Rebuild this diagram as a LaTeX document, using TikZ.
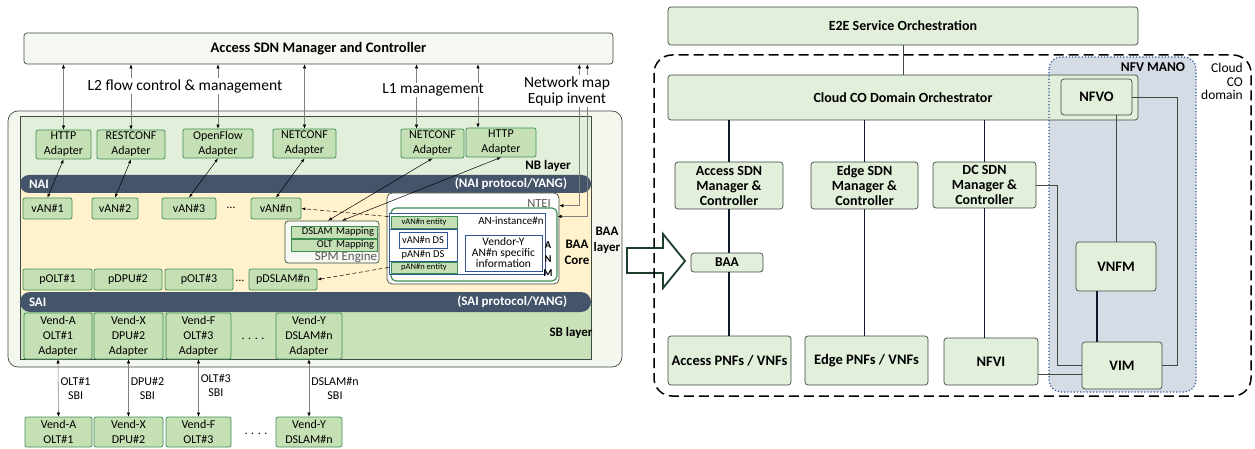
\documentclass[tikz,border=0pt]{standalone}
\usepackage{fontspec}
\setmainfont{Carlito}
\usetikzlibrary{arrows.meta}

\definecolor{adfill}{HTML}{C5E0B4}
\definecolor{adline}{HTML}{3E8E56}
\definecolor{nbfill}{HTML}{E2EFDA}
\definecolor{sbfill}{HTML}{C9E2B9}
\definecolor{topfill}{HTML}{F6F9F2}
\definecolor{framefill}{HTML}{F3F7EE}
\definecolor{corefill}{HTML}{FFF2CC}
\definecolor{barfill}{HTML}{44546A}
\definecolor{manofill}{HTML}{D6DCE5}
\definecolor{manoline}{HTML}{2F5597}
\definecolor{boxline}{HTML}{3F4A40}
\definecolor{linknavy}{HTML}{0E1A2B}
\definecolor{arrgray}{HTML}{808080}
\definecolor{bigarrow}{HTML}{1E3D2A}
\definecolor{txtgray}{HTML}{595959}

\begin{document}
\begin{tikzpicture}[
    x=1pt, y=-1pt,
    adapter/.style={draw=adline, fill=adfill, rounded corners=2pt, line width=0.7pt, align=center, inner sep=0pt, font=\fontsize{12}{15}\selectfont},
    mapbar/.style={draw=adline, fill=adfill, line width=0.6pt, inner sep=0pt},
    bluebox/.style={draw=manoline, fill=white, line width=0.8pt, inner sep=0pt, align=center},
    cobox/.style={draw=boxline, fill=nbfill, rounded corners=3pt, line width=0.7pt, align=center, inner sep=0pt, font=\fontsize{14}{15}\selectfont\bfseries},
    layerbar/.style={fill=barfill, rounded corners=9pt, inner sep=0pt, minimum width=571pt, minimum height=18pt},
    bartext/.style={text=white, font=\fontsize{13}{15}\selectfont\bfseries, inner sep=0pt},
    flowlabel/.style={fill=white, inner sep=1pt, align=center, font=\fontsize{15.5}{16}\selectfont},
    sbilabel/.style={align=center, inner sep=2pt, font=\fontsize{12}{14}\selectfont},
    layerlabel/.style={align=center, inner sep=0pt, font=\fontsize{13}{16}\selectfont\bfseries},
    smalltext/.style={inner sep=0pt, align=center, font=\fontsize{11}{11}\selectfont},
    dots/.style={inner sep=0pt, font=\fontsize{12}{12}\selectfont},
    biarrow/.style={{Latex[length=4pt,width=3.5pt,color=black]}-{Latex[length=4pt,width=3.5pt,color=black]}, draw=arrgray, line width=0.6pt},
    thinarrow/.style={{Latex[length=4pt,width=3pt]}-{Latex[length=4pt,width=3pt]}, line width=0.5pt},
    dasharrow/.style={-{Latex[length=4pt,width=3pt]}, dash pattern=on 4pt off 2.5pt, line width=0.5pt},
    link/.style={draw=linknavy, line width=1.1pt},
    manolink/.style={draw=boxline, line width=0.8pt}
]
\useasboundingbox (0,0) rectangle (1255,449);

    % ================= BAA LAYER FRAME =================
    \draw[draw=boxline, fill=framefill, rounded corners=10pt, line width=0.7pt] (8,111) rectangle (622,367);
    \fill[nbfill] (20,116) rectangle (591,184);
    \fill[corefill] (20,184) rectangle (591,301);
    \fill[sbfill] (20,301) rectangle (591,359);
    \draw[boxline, line width=0.5pt] (20,116) rectangle (591,359);

    \node[layerbar] (naibar) at (305.5,184) {};
    \node[layerbar, minimum height=20pt, rounded corners=10pt] (saibar) at (305.5,302) {};
    \node[bartext, anchor=west] (nailbl) at ([xshift=9pt]naibar.west) {NAI};
    \node[bartext, anchor=east] (naiproto) at ([xshift=-24pt]naibar.east) {(NAI protocol/YANG)};
    \node[bartext, anchor=west] (sailbl) at ([xshift=9pt]saibar.west) {SAI};
    \node[bartext, anchor=east] (saiproto) at ([xshift=-24pt]saibar.east) {(SAI protocol/YANG)};

    \node[layerlabel] (nblbl) at (548,166) {NB layer};
    \node[layerlabel] (sblbl) at (571,333) {SB layer};
    \node[layerlabel] (corelbl) at (577,252) {BAA\\Core};
    \node[layerlabel] (baalbl) at (607,240) {BAA\\layer};

    % ================= SDN MANAGER =================
    \node[draw=boxline, fill=topfill, rounded corners=3pt, line width=0.7pt, minimum width=589pt, minimum height=31pt, font=\fontsize{14.5}{16}\selectfont\bfseries] (asdn) at (318.5,48.5) {Access SDN Manager and Controller};

    % ================= NB ADAPTERS =================
    \node[adapter, minimum width=55pt, minimum height=29pt] (httpA) at (63.5,144.5) {HTTP\\Adapter};
    \node[adapter, minimum width=68pt, minimum height=29pt] (restA) at (131,144.5) {RESTCONF\\Adapter};
    \node[adapter, minimum width=70pt, minimum height=29pt] (ofA) at (218,143.5) {OpenFlow\\Adapter};
    \node[adapter, minimum width=63pt, minimum height=29pt] (ncA) at (304.5,143.5) {NETCONF\\Adapter};
    \node[adapter, minimum width=63pt, minimum height=29pt] (nc2A) at (432.5,143.5) {NETCONF\\Adapter};
    \node[adapter, minimum width=70pt, minimum height=29pt] (http2A) at (501,142.5) {HTTP\\Adapter};

    % ================= vAN / pAN =================
    \node[adapter, minimum width=49pt, minimum height=21pt] (van1) at (47.5,208.5) {vAN\#1};
    \node[adapter, minimum width=46pt, minimum height=21pt] (van2) at (115,208.5) {vAN\#2};
    \node[adapter, minimum width=54pt, minimum height=21pt] (van3) at (189,208.5) {vAN\#3};
    \node[dots] (vandots) at (231,208) {\dots};
    \node[adapter, minimum width=50pt, minimum height=21pt] (vann) at (276,208.5) {vAN\#n};

    \node[adapter, minimum width=69pt, minimum height=21pt] (polt1) at (57.5,279.5) {pOLT\#1};
    \node[adapter, minimum width=68pt, minimum height=21pt] (pdpu2) at (128,279.5) {pDPU\#2};
    \node[adapter, minimum width=68pt, minimum height=21pt] (polt3) at (199,279.5) {pOLT\#3};
    \node[dots] (pandots) at (240,281) {\dots};
    \node[adapter, minimum width=68pt, minimum height=21pt] (pdslam) at (283,279.5) {pDSLAM\#n};

    % ================= SPM ENGINE =================
    \node[draw=boxline, fill=topfill, rounded corners=3pt, line width=0.7pt, minimum width=94pt, minimum height=42pt] (spm) at (332,242) {};
    \node[mapbar, minimum width=86pt, minimum height=12pt, text width=80pt, align=right, font=\fontsize{10.5}{11}\selectfont] (dslammap) at (334,232) {DSLAM Mapping};
    \node[mapbar, minimum width=86pt, minimum height=12pt, text width=80pt, align=right, font=\fontsize{10.5}{11}\selectfont] (oltmap) at (334,245) {OLT Mapping};
    \node[inner sep=0pt, text=txtgray, font=\fontsize{13}{13}\selectfont] (spmlbl) at (346,257) {SPM Engine};

    % ================= NTEI / ANM =================
    \node[draw=boxline, fill=white, rounded corners=5pt, line width=0.7pt, minimum width=172pt, minimum height=91pt] (ntei) at (473,238.5) {};
    \node[inner sep=0pt, text=txtgray, font=\fontsize{12.5}{13}\selectfont] (nteilbl) at (539,203) {NTEI};
    \node[draw=adline, fill=white, rounded corners=5pt, line width=1.2pt, minimum width=166pt, minimum height=73pt] (anm) at (474,244.5) {};
    \node[bluebox, minimum width=156pt, minimum height=61pt] (aninst) at (467,243.5) {};
    \node[smalltext] (aninstlbl) at (511,221) {AN-instance\#n};
    \node[mapbar, minimum width=66pt, minimum height=12pt, font=\fontsize{8.5}{9}\selectfont] (vanent) at (424,222) {vAN\#n entity};
    \node[bluebox, minimum width=68pt, minimum height=32pt] (dsbox) at (423,245) {};
    \node[bluebox, minimum width=48pt, minimum height=16pt, font=\fontsize{10.5}{11}\selectfont] (vands) at (423,240) {vAN\#n DS};
    \node[smalltext, font=\fontsize{10.5}{11}\selectfont] (pandslbl) at (423,255) {pAN\#n DS};
    \node[mapbar, minimum width=66pt, minimum height=11pt, font=\fontsize{8.5}{9}\selectfont] (panent) at (424,267.5) {pAN\#n entity};
    \node[bluebox, minimum width=77pt, minimum height=36pt, font=\fontsize{11.5}{11}\selectfont] (vendinfo) at (503.5,253) {Vendor-Y\\AN\#n specific\\information};
    \node[inner sep=0pt, align=center, font=\fontsize{10.5}{14}\selectfont\bfseries] (anmlbl) at (548,259) {A\\N\\M};

    % ================= SB ADAPTERS =================
    \node[adapter, minimum width=68pt, minimum height=46pt] (vendA) at (58,336) {Vend-A\\OLT\#1\\Adapter};
    \node[adapter, minimum width=69pt, minimum height=46pt] (vendX) at (128.5,336) {Vend-X\\DPU\#2\\Adapter};
    \node[adapter, minimum width=65pt, minimum height=46pt] (vendF) at (198.5,336) {Vend-F\\OLT\#3\\Adapter};
    \node[dots] (venddots) at (253,339) {. . . .};
    \node[adapter, minimum width=66pt, minimum height=46pt] (vendY) at (309,336) {Vend-Y\\DSLAM\#n\\Adapter};

    % ================= ACCESS NODES =================
    \node[adapter, minimum width=67pt, minimum height=30pt] (devA) at (58.5,432) {Vend-A\\OLT\#1};
    \node[adapter, minimum width=69pt, minimum height=30pt] (devX) at (128.5,432) {Vend-X\\DPU\#2};
    \node[adapter, minimum width=65pt, minimum height=30pt] (devF) at (198.5,432) {Vend-F\\OLT\#3};
    \node[dots] (devdots) at (256,434) {. . . .};
    \node[adapter, minimum width=66pt, minimum height=30pt] (devY) at (309,432) {Vend-Y\\DSLAM\#n};

    % ================= LEFT CONNECTORS =================
    \coordinate (nc2up) at ([xshift=-16pt]nc2A.north);
    \coordinate (http2up) at ([xshift=-23pt]http2A.north);
    \draw[biarrow] (asdn.south -| httpA.north) -- (httpA.north);
    \draw[biarrow] (asdn.south -| restA.north) -- (restA.north);
    \draw[biarrow] (asdn.south -| ofA.north) -- (ofA.north);
    \draw[biarrow] (asdn.south -| ncA.north) -- (ncA.north);
    \draw[biarrow] (asdn.south -| nc2up) -- (nc2up);
    \draw[biarrow] (asdn.south -| http2up) -- (http2up);
    \draw[biarrow] ([yshift=-13pt]ntei.north east) -| ([xshift=-34pt]asdn.south east);
    \draw[biarrow] ([yshift=-9pt]anm.north east) -| ([xshift=-26pt]asdn.south east);

    \node[flowlabel] (l2lbl) at (185,86) {L2 flow control \& management};
    \node[flowlabel] (l1lbl) at (433,90) {L1 management};
    \node[flowlabel] (netlbl) at (567,91) {Network map\\Equip invent};

    \draw[thinarrow] (httpA.south) -- (van1.north);
    \draw[thinarrow] (restA.south) -- (van2.north);
    \draw[thinarrow] (ofA.south) -- (van3.north);
    \draw[thinarrow] (ncA.south) -- (vann.north);
    \draw[thinarrow] (nc2A.south) -- ([xshift=-4pt]spm.north);
    \draw[thinarrow] (http2A.south) -- ([xshift=10pt]spm.north);

    \draw[dasharrow] ([yshift=-4pt]aninst.north west) -- (vann.east);
    \draw[dasharrow] ([yshift=7pt]aninst.south west) -- (pdslam.east);

    \draw[biarrow] (vendA.south) -- (devA.north) node[midway, right, sbilabel] (sbi1) {OLT\#1\\SBI};
    \draw[biarrow] (vendX.south) -- (devX.north) node[midway, right, sbilabel] (sbi2) {DPU\#2\\SBI};
    \draw[biarrow] (vendF.south) -- (devF.north) node[midway, right, sbilabel, yshift=3pt] (sbi3) {OLT\#3\\SBI};
    \draw[biarrow] (vendY.south) -- (devY.north) node[midway, right, sbilabel] (sbi4) {DSLAM\#n\\SBI};

    % ================= BIG ARROW =================
    \draw[draw=bigarrow, fill=white, line width=1.8pt, line join=miter] (627,248) -- (663,248) -- (663,234) -- (685,261) -- (663,288) -- (663,273) -- (627,273) -- cycle;

    % ================= CLOUD CO DOMAIN =================
    \draw[dash pattern=on 10pt off 5pt, line width=1.5pt, rounded corners=18pt] (654,55) rectangle (1251,396);
    \node[anchor=north east, align=right, inner sep=0pt, font=\fontsize{13.5}{13.5}\selectfont] (cclbl) at (1243,63) {Cloud\\CO\\domain};

    \node[cobox, minimum width=470pt, minimum height=38pt] (e2e) at (903,26) {E2E Service Orchestration};
    \fill[manofill, rounded corners=12pt] (1049,57) rectangle (1196,392);
    \node[cobox, minimum width=470pt, minimum height=45pt] (ccdo) at (903,97.5) {Cloud CO Domain Orchestrator};
    \draw[manoline, dotted, line width=1.2pt, rounded corners=12pt] (1049,57) rectangle (1196,392);
    \node[inner sep=0pt, font=\fontsize{13.5}{13.5}\selectfont\bfseries] (manolbl) at (1153,67) {NFV MANO};
    \node[cobox, minimum width=71pt, minimum height=36pt, font=\fontsize{14.5}{15}\selectfont\bfseries] (nfvo) at (1096.5,97) {NFVO};

    \node[cobox, minimum width=108pt, minimum height=47pt] (accsdn) at (729,185.5) {Access SDN\\Manager \&\\Controller};
    \node[cobox, minimum width=107pt, minimum height=47pt] (edgesdn) at (864.5,185.5) {Edge SDN\\Manager \&\\Controller};
    \node[cobox, minimum width=103pt, minimum height=46pt] (dcsdn) at (984.5,185) {DC SDN\\Manager \&\\Controller};
    \node[cobox, minimum width=72pt, minimum height=19pt, font=\fontsize{13.5}{15}\selectfont\bfseries] (baa) at (727,262.5) {BAA};
    \node[cobox, minimum width=123pt, minimum height=49pt, font=\fontsize{14.5}{15}\selectfont\bfseries] (accpnf) at (729.5,360.5) {Access PNFs / VNFs};
    \node[cobox, minimum width=123pt, minimum height=49pt, font=\fontsize{14.5}{15}\selectfont\bfseries] (edgepnf) at (866.5,360.5) {Edge PNFs / VNFs};
    \node[cobox, minimum width=94pt, minimum height=47pt, font=\fontsize{14.5}{15}\selectfont\bfseries] (nfvi) at (991,361.5) {NFVI};
    \node[cobox, minimum width=80pt, minimum height=49pt, font=\fontsize{14.5}{15}\selectfont\bfseries] (vnfm) at (1116,266.5) {VNFM};
    \node[cobox, minimum width=80pt, minimum height=47pt, font=\fontsize{14.5}{15}\selectfont\bfseries] (vim) at (1122,365.5) {VIM};

    % ================= RIGHT CONNECTORS =================
    \draw[manolink] (e2e.south) -- (ccdo.north);
    \draw[link] (accsdn.north |- ccdo.south) -- (accsdn.north);
    \draw[link] (edgesdn.north |- ccdo.south) -- (edgesdn.north);
    \draw[link] (dcsdn.north |- ccdo.south) -- (dcsdn.north);
    \draw[link] (accsdn.south) -- (accsdn.south |- baa.north);
    \draw[link] (accsdn.south |- baa.south) -- (accsdn.south |- accpnf.north);
    \draw[link] (edgesdn.south) -- (edgesdn.south |- edgepnf.north);
    \draw[link] (dcsdn.south) -- (dcsdn.south |- nfvi.north);

    \draw[manolink] (vnfm.north |- nfvo.south) -- (vnfm.north);
    \draw[link] ([xshift=-19pt]vnfm.south) -- ([xshift=-19pt]vnfm.south |- vim.north);
    \draw[manolink] (nfvo.east) -| ([xshift=15pt]vim.east) -- (vim.east);
    \draw[manolink] (dcsdn.east) -| ([xshift=-24pt]vim.west) -- (vim.west);
    \draw[manolink] ([yshift=-12.5pt]nfvi.east) -- ([yshift=-12.5pt]nfvi.east -| vim.west);

\end{tikzpicture}
\end{document}
